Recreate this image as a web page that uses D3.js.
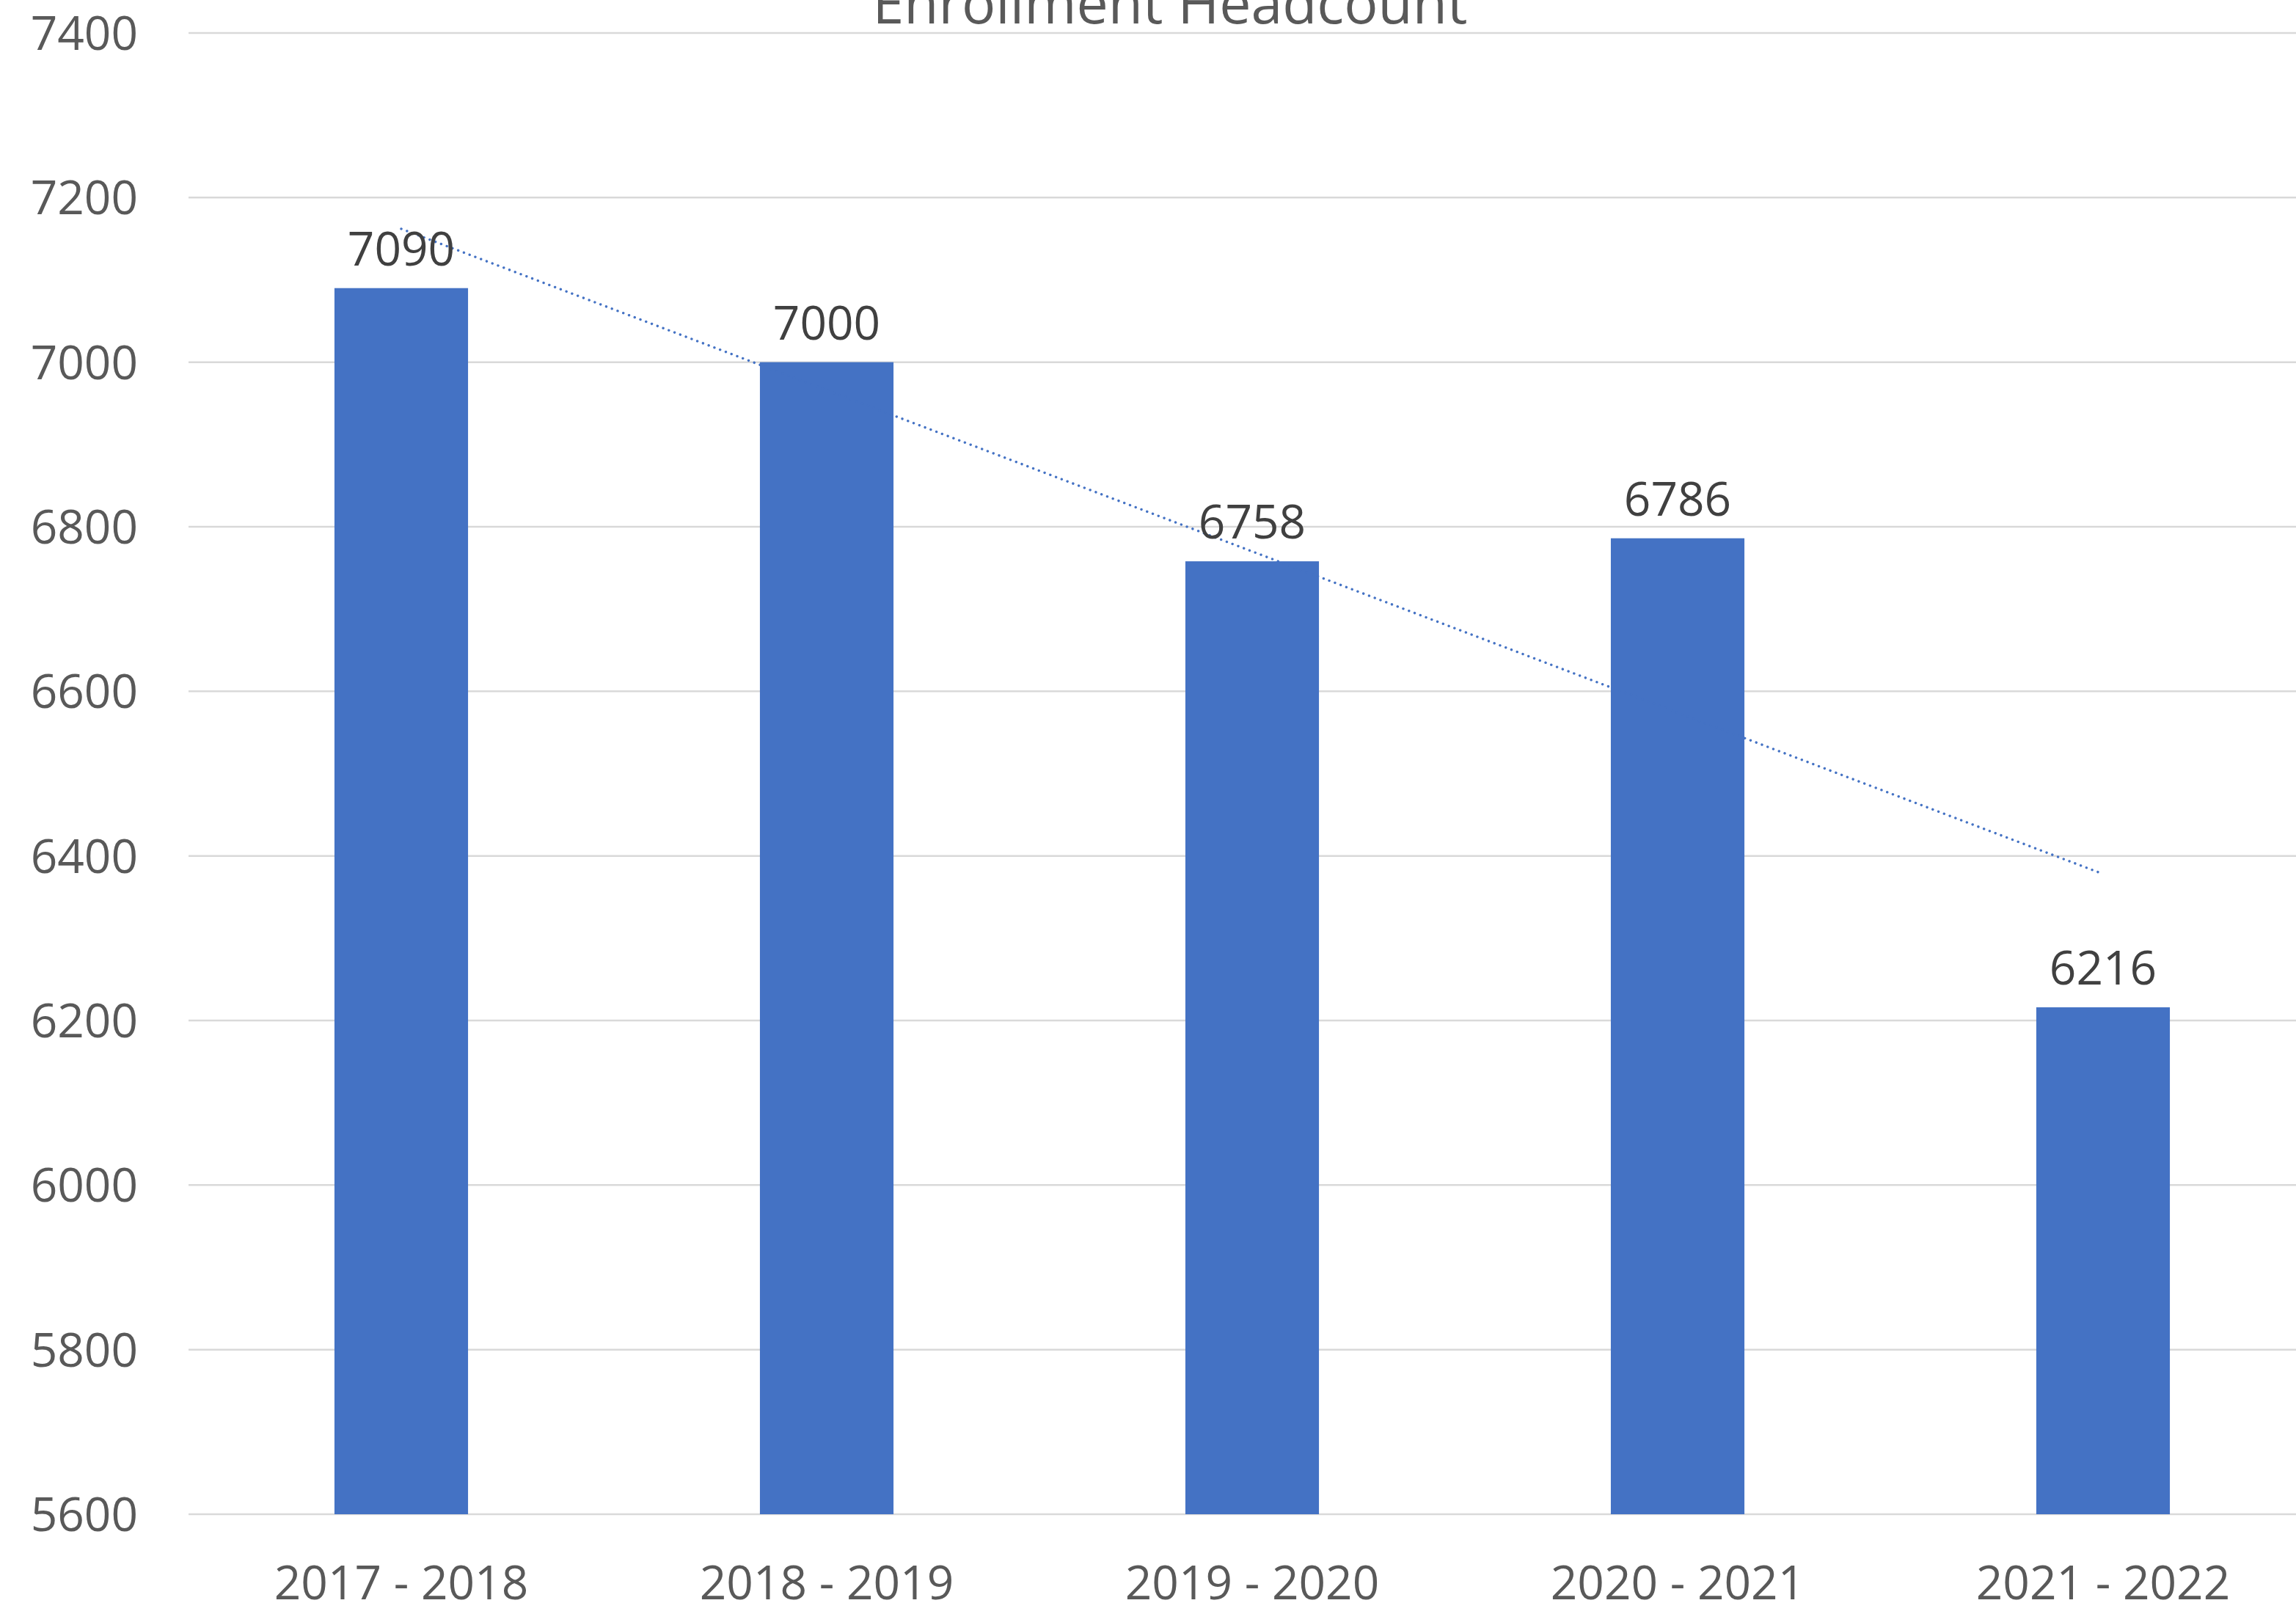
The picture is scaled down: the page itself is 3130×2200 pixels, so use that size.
<!DOCTYPE html>
<html>
<head>
<meta charset="utf-8">
<script src="https://cdn.jsdelivr.net/npm/d3@7"></script>
<style>
  html, body { margin: 0; padding: 0; background: #ffffff; }
  svg { display: block; }
</style>
</head>
<body>
<div id="chart"></div>
<script>
// Data.
const categories = ["2017 - 2018", "2018 - 2019", "2019 - 2020", "2020 - 2021", "2021 - 2022"];
const headcount = [7090, 7000, 6758, 6786, 6216];
const yTicks = [5600, 5800, 6000, 6200, 6400, 6600, 6800, 7000, 7200, 7400];
// Linear trendline, value at first and last category.
const trendCategories = ["2017 - 2018", "2021 - 2022"];
const trendValues = [7162, 6378];
const title = "Enrollment Headcount";

/**
 * Renders the bar chart with its dotted trendline.
 */
function EnrollmentChart(selector) {
  const width = 3130;
  const height = 2200;
  const font = "'Open Sans', 'Noto Sans', sans-serif";
  const barColor = "#4472C4";

  /**
   * SVG container.
   */
  const container = d3.select(selector);
  container.selectAll("*").remove();

  const svg = container
    .append("svg")
    .attr("width", width)
    .attr("height", height)
    .attr("font-family", font);

  /**
   * Scales.
   */
  const x = d3
    .scaleBand()
    .domain(categories)
    .range([257, 3157])
    .paddingInner(0.686)
    .paddingOuter(0.343);

  const y = d3.scaleLinear().domain([5600, 7400]).range([2064, 45]);

  // Draw the gridlines.
  svg
    .selectAll(".grid")
    .data(yTicks)
    .join("line")
    .attr("class", "grid")
    .attr("x1", 257)
    .attr("x2", width)
    .attr("y1", (d) => y(d))
    .attr("y2", (d) => y(d))
    .attr("stroke", "#D9D9D9")
    .attr("stroke-width", 2.5);

  // Label the y ticks.
  svg
    .selectAll(".ticklabel")
    .data(yTicks)
    .join("text")
    .attr("class", "ticklabel")
    .attr("x", 188)
    .attr("y", (d) => y(d))
    .attr("dy", "0.36em")
    .attr("text-anchor", "end")
    .attr("font-size", 64)
    .attr("fill", "#595959")
    .text((d) => d);

  /**
   * Bars.
   */
  const data = categories.map((c, i) => ({ category: c, value: headcount[i] }));

  svg
    .selectAll(".bar")
    .data(data)
    .join("rect")
    .attr("class", "bar")
    .attr("x", (d) => x(d.category))
    .attr("y", (d) => y(d.value))
    .attr("width", x.bandwidth())
    .attr("height", (d) => y(5600) - y(d.value))
    .attr("fill", barColor);

  // Draw the dotted trendline.
  const trend = trendCategories.map((c, i) => [x(c) + x.bandwidth() / 2, y(trendValues[i])]);
  svg
    .append("path")
    .attr("d", d3.line()(trend))
    .attr("fill", "none")
    .attr("stroke", barColor)
    .attr("stroke-width", 3.4)
    .attr("stroke-linecap", "round")
    .attr("stroke-dasharray", "0.1 8.2");

  // Value labels above the bars.
  svg
    .selectAll(".valuelabel")
    .data(data)
    .join("text")
    .attr("class", "valuelabel")
    .attr("x", (d) => x(d.category) + x.bandwidth() / 2)
    .attr("y", (d) => y(d.value) - 31)
    .attr("text-anchor", "middle")
    .attr("font-size", 64)
    .attr("fill", "#404040")
    .text((d) => d.value);

  // Category labels under the axis.
  svg
    .selectAll(".catlabel")
    .data(categories)
    .join("text")
    .attr("class", "catlabel")
    .attr("x", (d) => x(d) + x.bandwidth() / 2)
    .attr("y", 2180)
    .attr("text-anchor", "middle")
    .attr("font-size", 64)
    .attr("fill", "#595959")
    .text((d) => d);

  /**
   * Title (cut off by the top edge).
   */
  svg
    .append("text")
    .attr("x", 1595)
    .attr("y", 32)
    .attr("text-anchor", "middle")
    .attr("font-size", 77)
    .attr("fill", "#595959")
    .text(title);
}

EnrollmentChart("#chart");
</script>
</body>
</html>
